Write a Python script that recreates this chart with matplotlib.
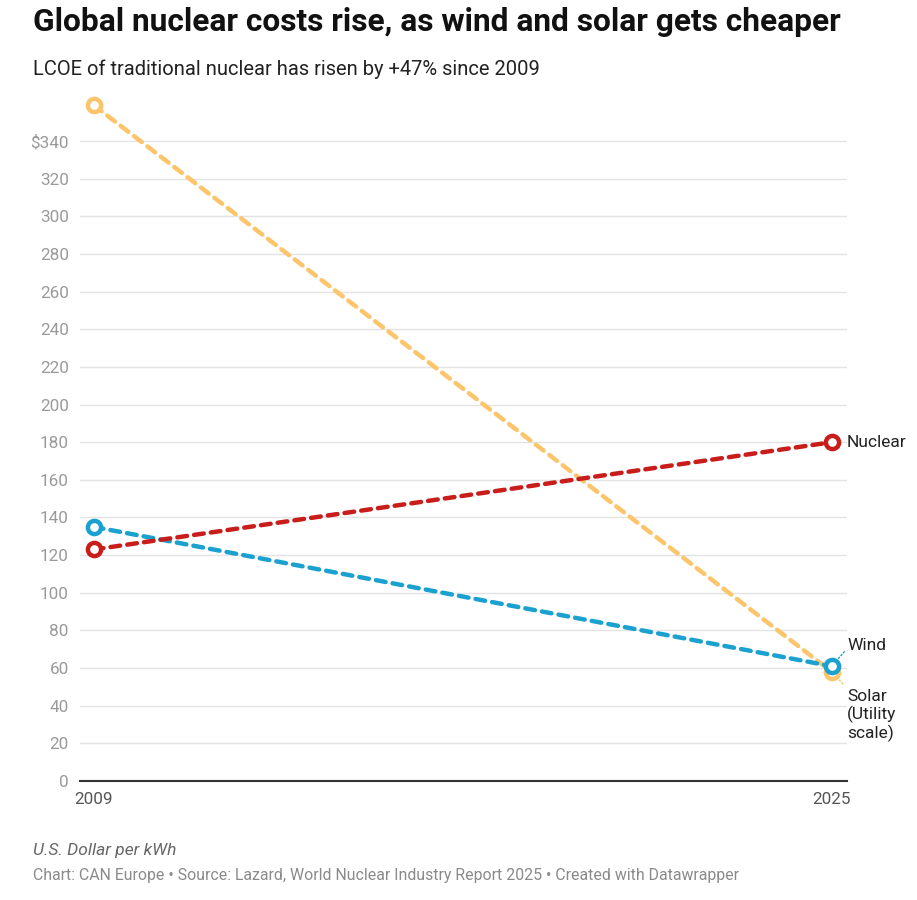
import matplotlib.pyplot as plt

# data (US$ per kWh, LCOE)
years = [2009, 2025]
solar = [359, 58]
nuclear = [123, 180]
wind = [135, 61]

yticks = list(range(0, 341, 20))
ytick_labels = [str(v) for v in yticks[:-1]] + ["$340"]

plt.rcParams['font.family'] = ['Roboto', 'DejaVu Sans']

fig = plt.figure(figsize=(9.17, 9.0), dpi=100)
ax = fig.add_axes([0.0872, 0.1322, 0.8365, 0.7634])

SOLAR_C = "#fcc56b"
NUC_C = "#c91d1c"
WIND_C = "#1aa1cf"

for vals, col, z in [(solar, SOLAR_C, 3), (wind, WIND_C, 4), (nuclear, NUC_C, 5)]:
    ax.plot(years, vals, color=col, lw=3.2, linestyle=(0, (2.2, 1.6)),
            zorder=z, solid_capstyle="round", dash_capstyle="round")
    ax.plot(years, vals, "o", ms=9.5, mfc="white", mec=col, mew=3.2, zorder=z + 3)

ax.set_xlim(2008.70, 2025.33)
ax.set_ylim(0, 365)

ax.set_yticks(yticks)
ax.set_yticklabels(ytick_labels)
ax.set_xticks(years)
ax.set_xticklabels([str(y) for y in years])

ax.grid(axis="y", color="#e3e3e3", lw=1)
ax.grid(axis="x", visible=False)
ax.set_axisbelow(True)
for s in ["top", "right", "left"]:
    ax.spines[s].set_visible(False)
ax.spines["bottom"].set_color("#333333")
ax.spines["bottom"].set_linewidth(1.5)

ax.tick_params(axis="y", length=0, pad=8, labelsize=12.3, labelcolor="#9a9a9a")
ax.tick_params(axis="x", length=0, pad=8, labelsize=12.3, labelcolor="#555555")

# direct labels at the right end
ax.annotate("Nuclear", xy=(1.0, nuclear[1]), xycoords=("axes fraction", "data"),
            xytext=(0, 0), textcoords="offset points", va="center", ha="left",
            fontsize=12.5, color="#222222", annotation_clip=False)
ax.annotate("Wind", xy=(years[1], wind[1]), xytext=(1.0, 68),
            textcoords=("axes fraction", "data"), xycoords="data",
            va="bottom", ha="left", fontsize=12.5, color="#222222",
            annotation_clip=False,
            arrowprops=dict(arrowstyle="-", color=WIND_C, lw=1, linestyle=":",
                            shrinkA=0, shrinkB=6, relpos=(0.0, 0.3)))
ax.annotate("Solar\n(Utility\nscale)", xy=(years[1], solar[1]), xytext=(1.0, 49),
            textcoords=("axes fraction", "data"), xycoords="data",
            va="top", ha="left", fontsize=12.5, color="#222222", linespacing=1.15,
            annotation_clip=False,
            arrowprops=dict(arrowstyle="-", color=SOLAR_C, lw=1, linestyle=":",
                            shrinkA=2, shrinkB=2))

fig.text(0.036, 0.992, "Global nuclear costs rise, as wind and solar gets cheaper",
         fontsize=22.8, fontweight="bold", color="#111111", va="top", ha="left")
fig.text(0.036, 0.934, "LCOE of traditional nuclear has risen by +47% since 2009",
         fontsize=14.5, color="#222222", va="top", ha="left")
fig.text(0.036, 0.055, "U.S. Dollar per kWh", fontsize=12.5, style="italic",
         color="#666666", va="center", ha="left")
fig.text(0.036, 0.027,
         "Chart: CAN Europe \u2022 Source: Lazard, World Nuclear Industry Report 2025 \u2022 Created with Datawrapper",
         fontsize=11.4, color="#8a8a8a", va="center", ha="left")

fig.savefig("out.png", dpi=100, facecolor="white")
